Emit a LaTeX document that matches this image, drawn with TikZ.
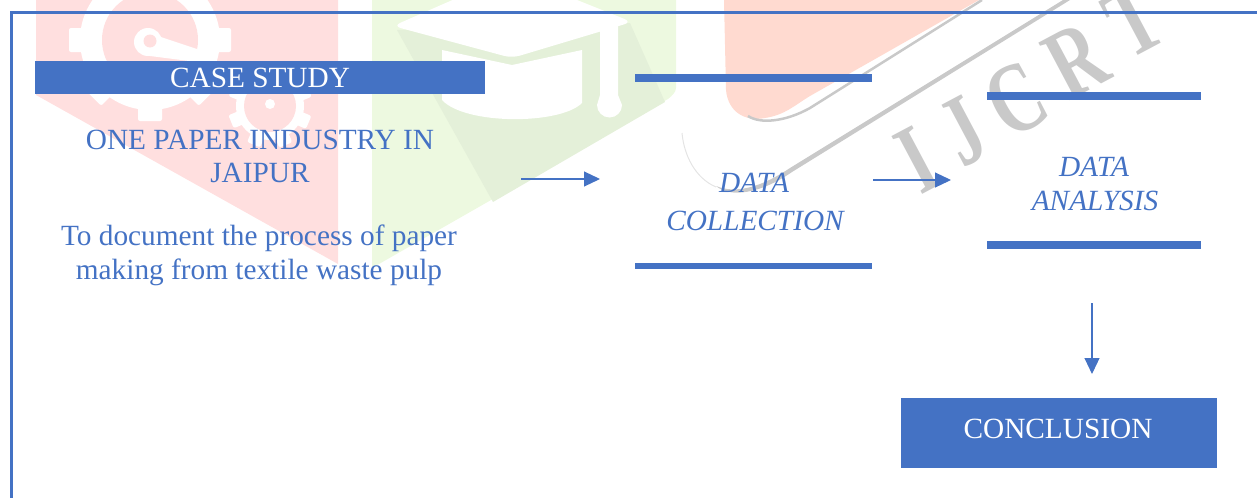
\documentclass[tikz,border=0pt]{standalone}
\usepackage{fontspec}
\setmainfont{Liberation Serif}
\usetikzlibrary{arrows.meta,calc}
\definecolor{ublue}{HTML}{4472C4}
\definecolor{wred}{HTML}{FFDFDF}
\definecolor{wgreen}{HTML}{EDF9E0}
\definecolor{wgreend}{HTML}{E4F0D9}
\definecolor{worange}{HTML}{FFDAD0}
\definecolor{wgray}{HTML}{C9C9C9}
\tikzset{
  txt/.style={anchor=base,text=ublue,inner sep=0pt,font=\fontsize{29.3}{33}\selectfont},
  ital/.style={txt,font=\fontsize{29.3}{33}\selectfont\itshape},
  banner/.style={fill=ublue,inner sep=0pt,text=white,font=\fontsize{29.3}{33}\selectfont},
  barline/.style={fill=ublue,inner sep=0pt,minimum height=7pt},
  arr/.style={draw=ublue,line width=1.1pt,-{Triangle[length=16pt,width=15pt]}},
  wm/.style={text=wgray,inner sep=0pt,rotate=28,font=\fontsize{100}{100}\selectfont\bfseries}
}
\newcommand{\wmgear}[6]{%
  \fill[white] (#1,#2) circle[radius=#4];
  \foreach \a in {0,45,...,315}{
    \fill[white,rounded corners=2pt,rotate around={\a+#6:(#1,#2)}] ($(#1,#2)+(-#5,0)$) rectangle ($(#1,#2)+(#5,-#3)$);
  }
}
\begin{document}
\begin{tikzpicture}[x=1pt,y=-1pt]
\useasboundingbox (0,0) rectangle (1257,498);
\clip (0,0) rectangle (1257,498);
% watermark: red shield with gears
\fill[wred] (36,0) -- (338,0) -- (338,264) -- (36,95) -- cycle;
\wmgear{150}{40}{81}{70}{12}{0}
\fill[wred] (150,40) circle[radius=48];
\fill[white] (148,42) circle[radius=14];
\fill[white] (140,30) -- (200,50) -- (197,62) -- (150,56) -- cycle;
\fill[wred] (150,41) circle[radius=6.5];
\wmgear{270}{106}{42}{34}{7}{22}
\fill[wred] (270,106) circle[radius=26];
\fill[white] (270,104) circle[radius=5];
% watermark: green shield with cap
\fill[wgreen] (372,0) -- (676,0) -- (676,88) .. controls (676,92) and (672,96) .. (668,99) -- (372,268) -- cycle;
\fill[wgreend] (397,30) -- (493,202) -- (665,102) -- (630,23) -- cycle;
\fill[white,rounded corners=8pt] (393,26) -- (512,-26) -- (632,22) -- (512,58) -- cycle;
\fill[white] (442,50) -- (512,65) -- (582,50) -- (582,103) .. controls (560,125) and (465,125) .. (442,100) -- cycle;
\fill[white] (600,25) -- (618,25) -- (618,95) -- (622,105) arc[start angle=0,end angle=180,radius=12.5] -- (600,95) -- cycle;
% watermark: orange shape, swooshes, letters
\fill[worange] (724,0) -- (726,90) .. controls (728,112) and (745,122) .. (765,118) .. controls (785,115) and (795,105) .. (810,96) -- (979,0) -- cycle;
\draw[wgray,line width=2.5pt] (748,116) .. controls (760,124) and (785,122) .. (810,108) -- (982,0);
\draw[wgray!50,line width=1pt] (682,133) .. controls (684,155) and (695,178) .. (716,187);
\fill[wgray] (716,186) .. controls (735,194) and (760,188) .. (790,168) -- (1063,0) -- (1070,0) -- (792,172) .. controls (760,194) and (730,198) .. (716,186) -- cycle;
\node[wm] (wi) at (917,160) {\scalebox{0.72}[1]{I}};
\node[wm] (wj) at (963,132) {\scalebox{0.72}[1]{J}};
\node[wm] (wc) at (1016,99) {\scalebox{0.72}[1]{C}};
\node[wm] (wr) at (1076,60) {\scalebox{0.72}[1]{R}};
\node[wm] (wt) at (1134,20) {\scalebox{0.72}[1]{T}};
% frame
\draw[ublue,line width=3pt] (1257,12.5) -- (11,12.5) -- (11,498);
% left column
\node[banner,minimum width=450pt,minimum height=33pt] (cs) at (260,77.5) {CASE STUDY};
\node[txt] (one) at (260,149) {ONE PAPER INDUSTRY IN};
\node[txt] (jai) at (260,182) {JAIPUR};
\node[txt] (doc) at (259,245) {To document the process of paper};
\node[txt] (mak) at (259,279) {making from textile waste pulp};
% data collection
\node[barline,minimum width=237pt,minimum height=8pt] (dct) at (753.5,78) {};
\node[ital] (dc1) at (754,192) {DATA};
\node[ital] (dc2) at (755,230) {COLLECTION};
\node[barline,minimum width=237pt,minimum height=6pt] (dcb) at (753.5,266) {};
% data analysis
\node[barline,minimum width=214pt,minimum height=8pt] (dat) at (1094,96) {};
\node[ital] (da1) at (1094,176) {DATA};
\node[ital] (da2) at (1095,210) {ANALYSIS};
\node[barline,minimum width=214pt,minimum height=8pt] (dab) at (1094,245) {};
% conclusion
\node[banner,minimum width=316pt,minimum height=70pt] (con) at (1059,433) {};
\node[anchor=base,text=white,inner sep=0pt,font=\fontsize{29.3}{33}\selectfont] (cont) at (1058,438) {CONCLUSION};
% arrows
\coordinate (a1s) at (521,179);
\coordinate (a1e) at (600,179);
\coordinate (a2s) at (873,180);
\coordinate (a2e) at (951,180);
\coordinate (a3s) at (1092,303);
\coordinate (a3e) at (1092,374);
\draw[arr] (a1s) -- (a1e);
\draw[arr] (a2s) -- (a2e);
\draw[arr] (a3s) -- (a3e);
\end{tikzpicture}
\end{document}
